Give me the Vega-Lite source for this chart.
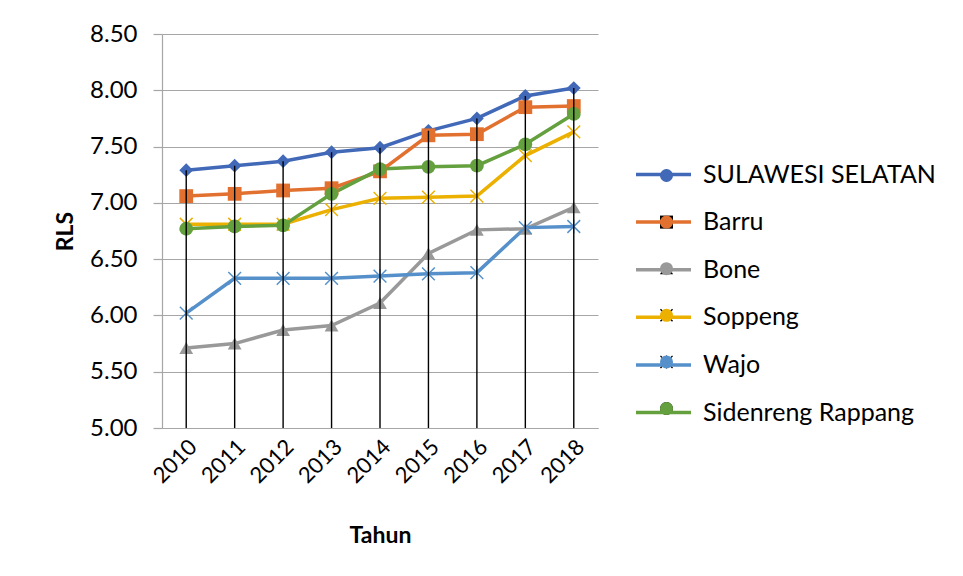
{
  "$schema": "https://vega.github.io/schema/vega-lite/v6.json",
  "autosize": "none",
  "width": 436,
  "height": 394,
  "padding": {"left": 162, "top": 34, "right": 365, "bottom": 148},
  "background": "white",
  "config": {
    "view": {"stroke": null},
    "font": "Lato",
    "axis": {"labelFont": "Lato", "titleFont": "Lato", "labelColor": "#000000", "titleColor": "#000000"}
  },
  "data": {
    "values": [
      {"year": "2010", "series": "SULAWESI SELATAN", "value": 7.29},
      {"year": "2011", "series": "SULAWESI SELATAN", "value": 7.33},
      {"year": "2012", "series": "SULAWESI SELATAN", "value": 7.37},
      {"year": "2013", "series": "SULAWESI SELATAN", "value": 7.45},
      {"year": "2014", "series": "SULAWESI SELATAN", "value": 7.49},
      {"year": "2015", "series": "SULAWESI SELATAN", "value": 7.64},
      {"year": "2016", "series": "SULAWESI SELATAN", "value": 7.75},
      {"year": "2017", "series": "SULAWESI SELATAN", "value": 7.95},
      {"year": "2018", "series": "SULAWESI SELATAN", "value": 8.02},
      {"year": "2010", "series": "Barru", "value": 7.06},
      {"year": "2011", "series": "Barru", "value": 7.08},
      {"year": "2012", "series": "Barru", "value": 7.11},
      {"year": "2013", "series": "Barru", "value": 7.13},
      {"year": "2014", "series": "Barru", "value": 7.28},
      {"year": "2015", "series": "Barru", "value": 7.60},
      {"year": "2016", "series": "Barru", "value": 7.61},
      {"year": "2017", "series": "Barru", "value": 7.85},
      {"year": "2018", "series": "Barru", "value": 7.86},
      {"year": "2010", "series": "Bone", "value": 5.71},
      {"year": "2011", "series": "Bone", "value": 5.75},
      {"year": "2012", "series": "Bone", "value": 5.87},
      {"year": "2013", "series": "Bone", "value": 5.91},
      {"year": "2014", "series": "Bone", "value": 6.11},
      {"year": "2015", "series": "Bone", "value": 6.55},
      {"year": "2016", "series": "Bone", "value": 6.76},
      {"year": "2017", "series": "Bone", "value": 6.77},
      {"year": "2018", "series": "Bone", "value": 6.96},
      {"year": "2010", "series": "Soppeng", "value": 6.81},
      {"year": "2011", "series": "Soppeng", "value": 6.81},
      {"year": "2012", "series": "Soppeng", "value": 6.81},
      {"year": "2013", "series": "Soppeng", "value": 6.94},
      {"year": "2014", "series": "Soppeng", "value": 7.04},
      {"year": "2015", "series": "Soppeng", "value": 7.05},
      {"year": "2016", "series": "Soppeng", "value": 7.06},
      {"year": "2017", "series": "Soppeng", "value": 7.42},
      {"year": "2018", "series": "Soppeng", "value": 7.63},
      {"year": "2010", "series": "Wajo", "value": 6.02},
      {"year": "2011", "series": "Wajo", "value": 6.33},
      {"year": "2012", "series": "Wajo", "value": 6.33},
      {"year": "2013", "series": "Wajo", "value": 6.33},
      {"year": "2014", "series": "Wajo", "value": 6.35},
      {"year": "2015", "series": "Wajo", "value": 6.37},
      {"year": "2016", "series": "Wajo", "value": 6.38},
      {"year": "2017", "series": "Wajo", "value": 6.78},
      {"year": "2018", "series": "Wajo", "value": 6.79},
      {"year": "2010", "series": "Sidenreng Rappang", "value": 6.77},
      {"year": "2011", "series": "Sidenreng Rappang", "value": 6.79},
      {"year": "2012", "series": "Sidenreng Rappang", "value": 6.80},
      {"year": "2013", "series": "Sidenreng Rappang", "value": 7.08},
      {"year": "2014", "series": "Sidenreng Rappang", "value": 7.30},
      {"year": "2015", "series": "Sidenreng Rappang", "value": 7.32},
      {"year": "2016", "series": "Sidenreng Rappang", "value": 7.33},
      {"year": "2017", "series": "Sidenreng Rappang", "value": 7.52},
      {"year": "2018", "series": "Sidenreng Rappang", "value": 7.79}
    ]
  },
  "encoding": {
    "x": {
      "field": "year", "type": "ordinal",
      "axis": {
        "title": "Tahun", "titleFontSize": 23, "titleFontWeight": "bold", "titlePadding": 38,
        "labelAngle": -45, "labelFontSize": 22, "labelPadding": 8,
        "ticks": false, "grid": false, "domainColor": "#a6a6a6", "domainWidth": 1.2
      }
    },
    "y": {
      "field": "value", "type": "quantitative",
      "scale": {"domain": [5, 8.5], "nice": false, "zero": false},
      "axis": {
        "title": "RLS", "titleFontSize": 23, "titleFontWeight": "bold", "titlePadding": 12,
        "values": [5, 5.5, 6, 6.5, 7, 7.5, 8, 8.5], "format": ".2f",
        "labelFontSize": 24, "labelPadding": 16,
        "tickSize": 9, "tickColor": "#a6a6a6", "tickWidth": 1.2,
        "gridColor": "#a6a6a6", "gridWidth": 1.2,
        "domainColor": "#a6a6a6", "domainWidth": 1.2
      }
    }
  },
  "layer": [
    {
      "mark": {"type": "line", "strokeWidth": 3.5},
      "encoding": {
        "color": {
          "field": "series", "type": "nominal",
          "scale": {
            "domain": ["SULAWESI SELATAN", "Barru", "Bone", "Soppeng", "Wajo", "Sidenreng Rappang"],
            "range": ["#4169B8", "#E2712F", "#999999", "#EBB000", "#5590CA", "#64A03E"]
          },
          "legend": {
            "title": null, "orient": "none", "legendX": 472, "legendY": 111,
            "symbolType": "stroke", "symbolSize": 3025, "symbolStrokeWidth": 3.5,
            "labelFontSize": 25, "labelFont": "Lato", "labelColor": "#000000", "labelLimit": 400,
            "labelOffset": 10, "rowPadding": 4.6, "padding": 0
          }
        }
      }
    },
    {
      "mark": {"type": "point", "filled": true, "size": 190, "opacity": 1},
      "encoding": {
        "color": {
          "field": "series", "type": "nominal",
          "legend": {
            "title": null, "orient": "none", "legendX": 493, "legendY": 130,
            "labelExpr": "''", "symbolSize": 170, "labelFontSize": 23,
            "labelOffset": 10, "rowPadding": 22.6, "padding": 0
          }
        },
        "shape": {
          "field": "series", "type": "nominal",
          "scale": {
            "domain": ["SULAWESI SELATAN", "Barru", "Bone", "Soppeng", "Wajo", "Sidenreng Rappang"],
            "range": [
              "M0,-1L1,0L0,1L-1,0Z",
              "square",
              "triangle-up",
              "M-1,-0.85L-0.85,-1L1,0.85L0.85,1ZM1,-0.85L-0.85,1L-1,0.85L0.85,-1Z",
              "M-1,-0.85L-0.85,-1L1,0.85L0.85,1ZM1,-0.85L-0.85,1L-1,0.85L0.85,-1ZM0.08,-1L0.08,1L-0.08,1L-0.08,-1Z",
              "circle"
            ]
          },
          "legend": {
            "title": null, "orient": "none", "legendX": 493, "legendY": 130,
            "labelExpr": "''", "symbolSize": 170, "labelFontSize": 23,
            "labelOffset": 10, "rowPadding": 22.6, "padding": 0
          }
        }
      }
    },
    {
      "mark": {"type": "rule", "color": "#000000", "strokeWidth": 1.4},
      "encoding": {
        "y": {"aggregate": "max", "field": "value", "type": "quantitative"},
        "y2": {"datum": 5}
      }
    }
  ],
  "resolve": {"legend": {"color": "independent"}}
}
